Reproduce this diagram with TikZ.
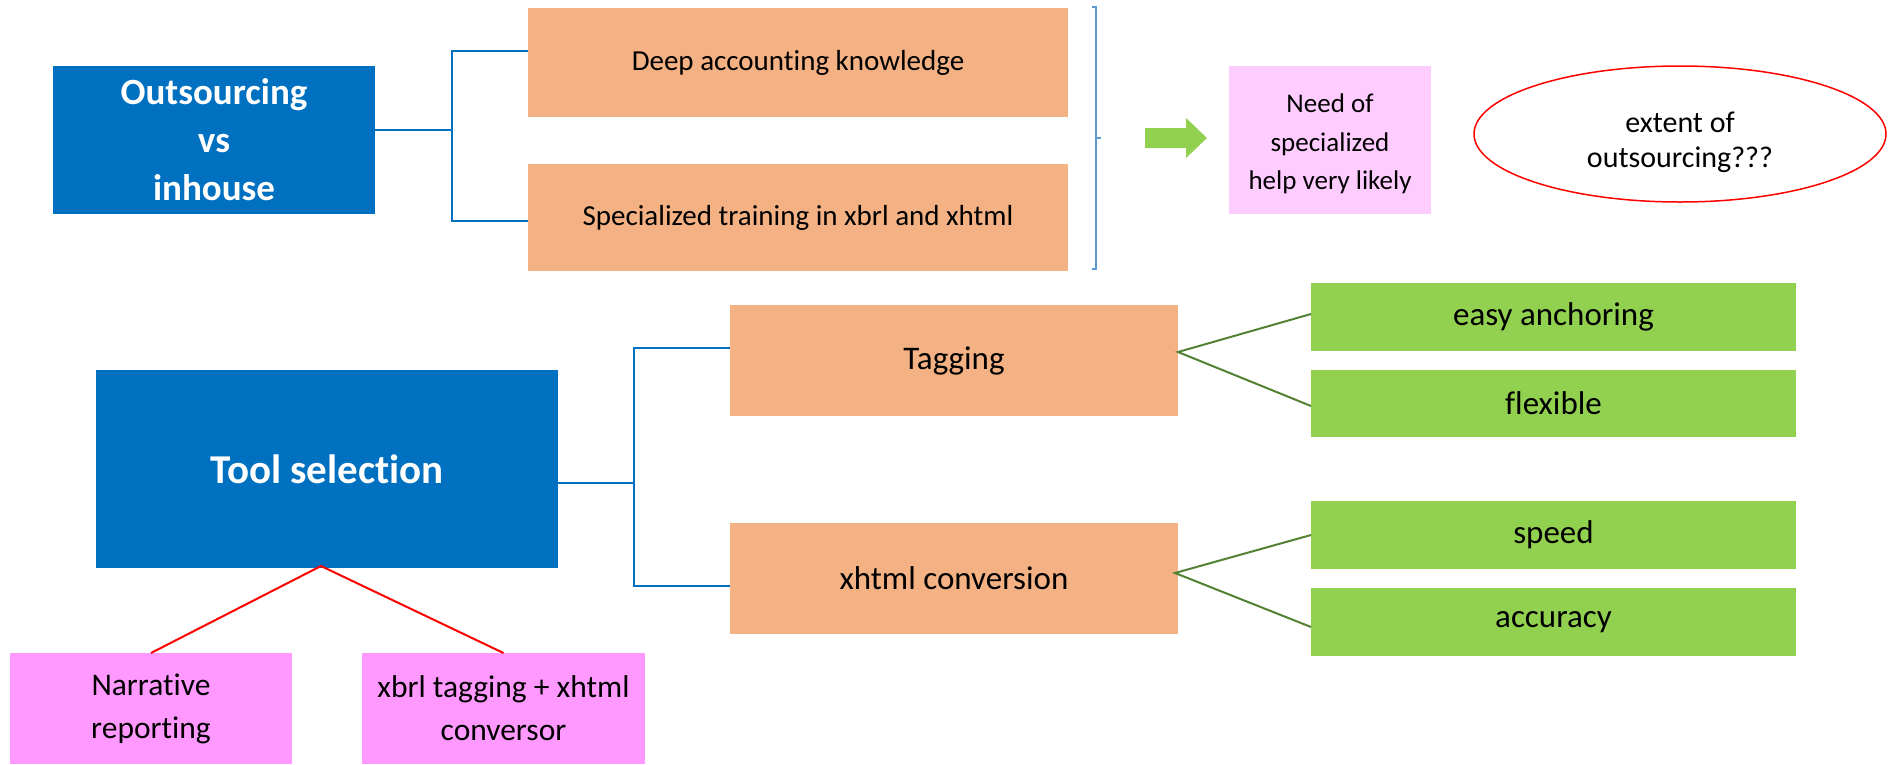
\documentclass[tikz,border=0pt]{standalone}
\usepackage{fontspec}
\setmainfont{Carlito}[Ligatures={NoCommon}]
\usetikzlibrary{shapes.geometric,calc}
\definecolor{dblue}{HTML}{0070C0}
\definecolor{orng}{HTML}{F4B183}
\definecolor{lgreen}{HTML}{92D050}
\definecolor{ppink}{HTML}{FFCCFF}
\definecolor{mpink}{HTML}{FF99FF}
\definecolor{dgreen}{HTML}{548235}
\definecolor{brkblue}{HTML}{5B9BD5}
\begin{document}
\begin{tikzpicture}[x=1pt,y=-1pt,
  base/.style={rectangle, inner sep=0pt, outer sep=0pt, align=center},
  bluebox/.style={base, fill=dblue, text=white, font=\bfseries},
  orbox/.style={base, fill=orng, font=\fontsize{29}{36}\selectfont},
  grbox/.style={base, fill=lgreen, minimum width=485pt, font=\fontsize{33}{38}\selectfont},
  pinkbox/.style={base, fill=mpink, minimum width=283pt, minimum height=111pt, font=\fontsize{31.5}{43}\selectfont},
  bconn/.style={draw=dblue, line width=2pt},
  gconn/.style={draw=dgreen, line width=2pt},
  rconn/.style={draw=red, line width=2pt}]
\fill[white] (0,0) rectangle (1890,764);
\useasboundingbox (0,0) rectangle (1890,764);

% top section
\node[bluebox, minimum width=322pt, minimum height=148pt, font=\bfseries\fontsize{37}{48}\selectfont] (out) at (214,140) {Outsourcing\\vs\\inhouse};
\node[orbox, minimum width=540pt, minimum height=109pt] (deep) at (798,62.5) {Deep accounting knowledge};
\node[orbox, minimum width=540pt, minimum height=107pt] (spec) at (798,217.5) {Specialized training in xbrl and xhtml};
\node[base, fill=ppink, minimum width=202pt, minimum height=148pt] (need) at (1330,140) {};
\node[base, font=\fontsize{27}{38.5}\selectfont, yshift=-4pt] (needlbl) at (need.center) {Need of\\specialized\\help very likely};
\node[ellipse, draw=red, line width=1.5pt, minimum width=412pt, minimum height=136pt, inner sep=0pt] (ext) at (1680,134) {};
\node[base, font=\fontsize{30}{35}\selectfont, yshift=-8pt] (extlbl) at (ext.center) {extent of\\outsourcing???};

\draw[bconn] ([yshift=10pt]out.east) -- ++(77,0) coordinate (j1);
\draw[bconn] ([yshift=11.5pt]deep.west) -| (j1) |- ([yshift=-3.5pt]spec.west);

% bracket
\coordinate (bt) at (1096,7);
\coordinate (bb) at (1096,269);
\coordinate (bm) at (1096,138);
\draw[brkblue, line width=1.5pt] ($(bt)+(-4,0)$) -- (bt) -- (bb) -- ($(bb)+(-4,0)$);
\draw[brkblue, line width=1.5pt] (bm) -- ++(5,0);

% green arrow
\fill[lgreen] (1145,128) -- (1186,128) -- (1186,118) -- (1207,138) -- (1186,158) -- (1186,148) -- (1145,148) -- cycle;

% bottom section
\node[bluebox, minimum width=462pt, minimum height=198pt, font=\bfseries\fontsize{41}{46}\selectfont] (tool) at (327,469) {Tool selection};
\node[orbox, minimum width=448pt, minimum height=111pt, font=\fontsize{33}{38}\selectfont] (tag) at (954,360.5) {Tagging};
\node[orbox, minimum width=448pt, minimum height=111pt, font=\fontsize{33}{38}\selectfont] (xht) at (954,578.5) {xhtml conversion};

\node[grbox, minimum height=68pt] (easy) at (1553.5,317) {easy anchoring};
\node[grbox, minimum height=67pt] (flex) at (1553.5,403.5) {flexible};
\node[grbox, minimum height=68pt] (speed) at (1553.5,535) {speed};
\node[grbox, minimum height=68pt] (acc) at (1553.5,622) {accuracy};

\node[pinkbox, minimum width=282pt] (narr) at (151,708.5) {Narrative\\reporting};
\node[pinkbox] (xbrl) at (503.5,708.5) {xbrl tagging + xhtml\\conversor};

\draw[bconn] ([yshift=-14pt]tool.east) -- ++(76,0) coordinate (j2);
\draw[bconn] ([yshift=12.5pt]tag.west) -| (j2) |- ([yshift=-7.5pt]xht.west);

\draw[gconn] ([yshift=3pt]easy.west) -- ([yshift=8.5pt]tag.east) -- ([yshift=-2.5pt]flex.west);
\draw[gconn] (speed.west) -- ([yshift=5.5pt,xshift=-3pt]xht.east) -- ([yshift=-5pt]acc.west);

\draw[rconn] (narr.north) -- ([xshift=-6pt,yshift=2pt]tool.south) -- (xbrl.north);
\end{tikzpicture}
\end{document}
